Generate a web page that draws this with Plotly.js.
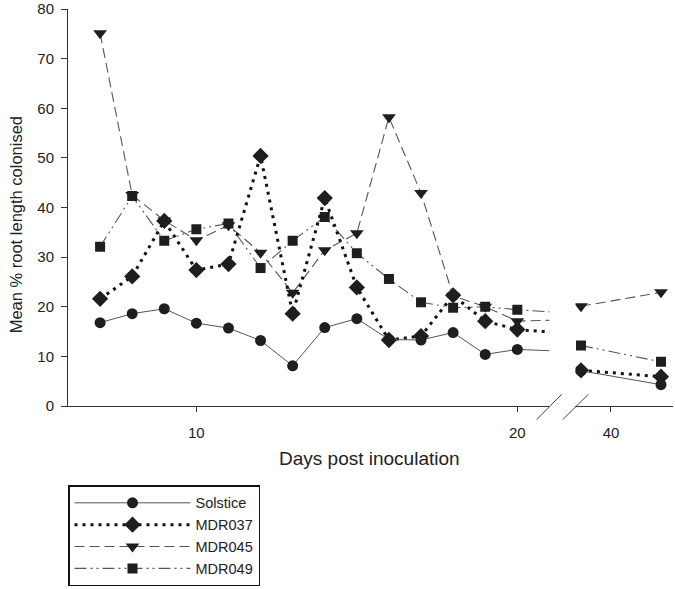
<!DOCTYPE html>
<html>
<head>
<meta charset="utf-8">
<script src="https://cdn.plot.ly/plotly-3.0.1.min.js"></script>
<style>html,body{margin:0;padding:0;background:#fff}#chart{width:675px;height:589px}</style>
</head>
<body>
<div id="chart"></div>
<script>
// ---- data ----
const days = [7, 8, 9, 10, 11, 12, 13, 14, 15, 16, 17, 18, 19, 20, 37, 45];
const solstice = [16.8, 18.6, 19.6, 16.7, 15.7, 13.2, 8.1, 15.8, 17.6, 13.4, 13.3, 14.8, 10.4, 11.4, 7.1, 4.3];
const mdr037 = [21.6, 26.1, 37.3, 27.4, 28.6, 50.4, 18.6, 41.9, 23.9, 13.3, 14.1, 22.3, 17.1, 15.4, 7.2, 5.9];
const mdr045 = [75.1, 42.5, 37.4, 33.4, 36.4, 30.9, 22.8, 31.4, 34.8, 58.2, 42.9, 22.2, 20.0, 17.1, 20.1, 22.9];
const mdr049 = [32.1, 42.3, 33.3, 35.6, 36.8, 27.8, 33.3, 38.1, 30.8, 25.6, 20.9, 19.8, 20.0, 19.4, 12.2, 8.9];
const seriesNames = ["Solstice", "MDR037", "MDR045", "MDR049"];
const xTicksLeft = [10, 20];
const xTicksRight = [40];
const yTicks = [0, 10, 20, 30, 40, 50, 60, 70, 80];
const breakStart = 2; // number of points after the axis break (last two)

// ---- styles ----
const FONT = "Liberation Sans, Arial, sans-serif";
const markerColor = "#1e1e1e";
const styles = [
  {line: {color: "#555", width: 1, dash: "solid"}, marker: {symbol: "circle", size: 11}},
  {line: {color: "#111", width: 3, dash: "3px,5px"}, marker: {symbol: "diamond", size: 12.5}},
  {line: {color: "#555", width: 1.1, dash: "10px,5px"}, marker: {symbol: "triangle-down", size: 12}},
  {line: {color: "#555", width: 1.1, dash: "12px,4px,2px,4px,2px,4px"}, marker: {symbol: "square", size: 10}}
];
const allSeries = [solstice, mdr037, mdr045, mdr049];
const drawOrder = [2, 3, 1, 0]; // bottom to top

const traces = [];
drawOrder.forEach((i) => {
  const vals = allSeries[i];
  const st = styles[i];
  // left segment: the whole series, clipped at the axis break
  traces.push({
    x: days, y: vals, xaxis: "x", yaxis: "y", type: "scatter", mode: "lines+markers",
    name: seriesNames[i], showlegend: true, legendrank: i + 1, cliponaxis: true,
    line: st.line, marker: Object.assign({color: markerColor, line: {width: 0}}, st.marker)
  });
  // right segment: points after the break
  const n = days.length;
  traces.push({
    x: days.slice(n - breakStart), y: vals.slice(n - breakStart), xaxis: "x2", yaxis: "y",
    type: "scatter", mode: "lines+markers", showlegend: false, name: seriesNames[i],
    line: st.line, marker: Object.assign({color: markerColor, line: {width: 0}}, st.marker)
  });
});

const axisCommon = {
  showgrid: false, zeroline: false, showline: true, linecolor: "#333", linewidth: 1,
  ticks: "outside", ticklen: 5, tickcolor: "#333", tickwidth: 1,
  tickfont: {family: FONT, size: 15, color: "#222"}, ticklabelstandoff: 8
};

const layout = {
  width: 675, height: 589,
  margin: {l: 68, r: 2, t: 9, b: 180},
  paper_bgcolor: "#fff", plot_bgcolor: "#fff",
  font: {family: FONT, color: "#222"},
  showlegend: true,
  xaxis: Object.assign({}, axisCommon, {domain: [0, 0.7957], range: [6, 21], tickmode: "array", tickvals: xTicksLeft, anchor: "y"}),
  xaxis2: Object.assign({}, axisCommon, {domain: [0.8388, 1], range: [36.45, 46.2], tickmode: "array", tickvals: xTicksRight, anchor: "y"}),
  yaxis: Object.assign({}, axisCommon, {range: [0, 80], tickmode: "array", tickvals: yTicks, ticklen: 6, ticklabelstandoff: 4}),
  legend: {
    x: 0, y: -0.2, xanchor: "left", yanchor: "top", orientation: "v",
    bordercolor: "#111", borderwidth: 1.5, bgcolor: "#fff",
    font: {family: FONT, size: 14.5, color: "#222"}, itemwidth: 116, tracegroupgap: 0
  },
  shapes: [
    {type: "line", xref: "paper", yref: "paper", x0: 0.7747, y0: -0.0343, x1: 0.8160, y1: 0.0293, line: {color: "#444", width: 1}},
    {type: "line", xref: "paper", yref: "paper", x0: 0.8177, y0: -0.0343, x1: 0.8600, y1: 0.0293, line: {color: "#444", width: 1}}
  ],
  annotations: [
    {text: "Mean % root length colonised", xref: "paper", yref: "paper", x: -0.086, y: 0.4575,
     showarrow: false, textangle: -90, font: {family: FONT, size: 16.5, color: "#222"}, xanchor: "center", yanchor: "middle"},
    {text: "Days post inoculation", xref: "paper", yref: "paper", x: 0.499, y: -0.133,
     showarrow: false, font: {family: FONT, size: 19, color: "#222"}, xanchor: "center", yanchor: "middle"}
  ]
};

Plotly.newPlot("chart", traces, layout, {displayModeBar: false, staticPlot: true});
</script>
</body>
</html>
